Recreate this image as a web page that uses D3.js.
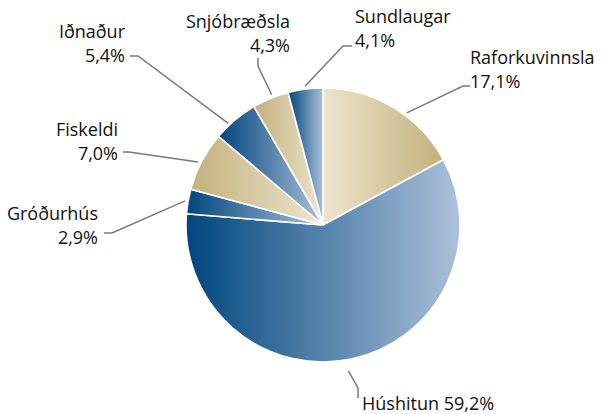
<!DOCTYPE html>
<html>
<head>
<meta charset="utf-8">
<script src="https://cdn.jsdelivr.net/npm/d3@7"></script>
<style>
  body { margin: 0; background: #fff; }
  text { font-family: "Open Sans", sans-serif; font-size: 18px; fill: #111; }
</style>
</head>
<body>
<div id="chart"></div>
<script>
// data, clockwise from 12 o'clock
let categories = ["Raforkuvinnsla", "Húshitun", "Gróðurhús", "Fiskeldi", "Iðnaður", "Snjóbræðsla", "Sundlaugar"];
let shares = [17.1, 59.2, 2.9, 7.0, 5.4, 4.3, 4.1];
let shareLabels = ["17,1%", "59,2%", "2,9%", "7,0%", "5,4%", "4,3%", "4,1%"];

let width = 602, height = 414;
let cx = 323, cy = 225, radius = 137;

// slice styling: colour family and gradient direction
let family = ["tan", "blue", "blue", "tan", "blue", "tan", "blue"];
let reversed = [true, false, false, false, false, false, false];
let ramps = {
    blue: ["#00467e", "#acc0da"],
    tan: ["#c3b07c", "#ece6ce"]
};

// label layout: text anchor point, alignment, single/two lines, leader elbow,
// leader offset from the rim and a small angle nudge (degrees)
let labelLayout = [
    {x: 470, y: 64, anchor: "start", lines: 2, elbow: [[470, 86], [463, 86]], rOff: 3, nudge: 6},
    {x: 362, y: 410, anchor: "start", lines: 1, elbow: [[358, 398], [358, 388]], rOff: 11, nudge: 2},
    {x: 98, y: 220, anchor: "end", lines: 2, elbow: [[104, 233], [112, 233]], rOff: 3, nudge: 0},
    {x: 118, y: 136, anchor: "end", lines: 2, elbow: [[123, 152], [129, 152]], rOff: 3, nudge: -1},
    {x: 125, y: 38, anchor: "end", lines: 2, elbow: [[130, 56], [138, 56]], rOff: 2, nudge: -3},
    {x: 290, y: 28, anchor: "end", lines: 2, elbow: [[258, 58], [258, 66]], rOff: 3, nudge: 1},
    {x: 355, y: 23, anchor: "start", lines: 2, elbow: [[352, 46], [343, 46]], rOff: 3, nudge: 0}
];

let svg = d3.select("#chart")
    .append("svg")
    .attr("width", width)
    .attr("height", height);

let defs = svg.append("defs");
categories.forEach((c, i) => {
    let stops = ramps[family[i]].slice();
    if (reversed[i]) stops.reverse();
    let g = defs.append("linearGradient")
        .attr("id", "grad" + i)
        .attr("x1", 0).attr("y1", 0)
        .attr("x2", 1).attr("y2", 0);
    g.append("stop").attr("offset", "0%").attr("stop-color", stops[0]);
    g.append("stop").attr("offset", "100%").attr("stop-color", stops[1]);
});

let pie = d3.pie()
    .sort(null)
    .value(d => d)
    .startAngle(0)
    .endAngle(2 * Math.PI);

let arcs = pie(shares);

let arc = d3.arc()
    .innerRadius(0)
    .outerRadius(radius);

let g = svg.append("g")
    .attr("transform", "translate(" + cx + "," + cy + ")");

g.selectAll(".slice")
    .data(arcs)
    .enter()
    .append("path")
    .attr("class", "slice")
    .attr("d", arc)
    .attr("fill", (d, i) => "url(#grad" + i + ")")
    .attr("stroke", "#fff")
    .attr("stroke-width", 1.6)
    .attr("stroke-linejoin", "round");

// leader lines
arcs.forEach((d, i) => {
    let L = labelLayout[i];
    let mid = (d.startAngle + d.endAngle) / 2 + L.nudge * Math.PI / 180;
    let r = radius + L.rOff;
    let px = cx + r * Math.sin(mid);
    let py = cy - r * Math.cos(mid);
    let pts = [L.elbow[0], L.elbow[1], [px, py]];
    svg.append("path")
        .attr("d", d3.line()(pts))
        .attr("fill", "none")
        .attr("stroke", "#7a7a7a")
        .attr("stroke-width", 1.5);
});

// labels
categories.forEach((c, i) => {
    let L = labelLayout[i];
    let t = svg.append("text")
        .attr("x", L.x)
        .attr("y", L.y)
        .attr("text-anchor", L.anchor);
    if (L.lines === 1) {
        t.text(c + " " + shareLabels[i]);
    } else {
        t.append("tspan").attr("x", L.x).text(c);
        t.append("tspan").attr("x", L.x).attr("dy", 24).text(shareLabels[i]);
    }
});
</script>
</body>
</html>
